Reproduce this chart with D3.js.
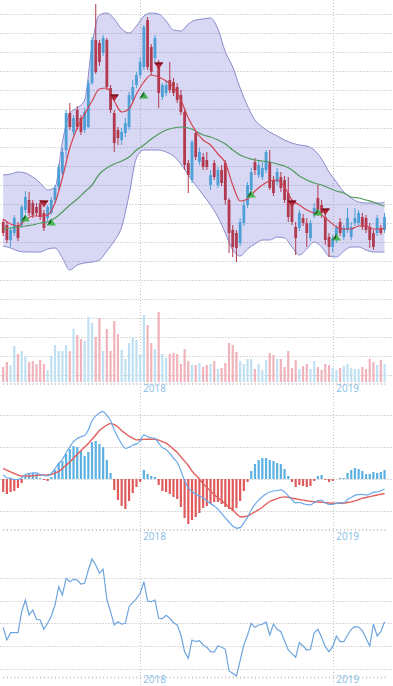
<!DOCTYPE html>
<html><head><meta charset="utf-8">
<script src="https://cdn.jsdelivr.net/npm/d3@7"></script>
<style>html,body{margin:0;padding:0;background:#fff;overflow:hidden}</style>
</head><body><svg id="c" width="393" height="686"></svg>
<script>
// ---------- DATA ----------
const firstWeek = "2017-04-17";
const lastWeek = "2019-04-08";
const openP = [7.8,7.5,6.0,6.7,7.5,7.5,9.0,10.0,9.7,9.3,
9.7,8.7,8.2,8.7,10.0,11.3,12.7,15.0,18.7,16.8,
19.0,18.2,17.0,17.3,21.7,26.0,25.7,24.7,26.0,21.2,
18.7,17.0,16.0,16.7,17.3,20.0,21.5,22.5,23.3,28.0,
25.3,24.2,23.8,20.3,20.7,22.0,21.8,21.3,20.5,18.8,
13.7,12.0,16.7,13.8,14.3,14.0,11.5,13.7,11.5,13.0,
13.7,10.0,7.0,6.7,5.7,7.7,9.5,11.0,13.8,12.5,
12.3,13.0,13.8,12.0,11.8,12.3,12.0,10.7,9.5,7.3,
7.2,8.2,7.7,6.2,8.5,10.2,9.5,8.3,6.3,5.3,
6.0,7.8,6.3,7.0,6.3,7.7,7.7,8.3,8.2,7.3,
6.7,6.7,7.2,7.0];
const highP = [8.1,7.9,7.3,8.5,7.8,9.5,10.9,10.8,10.0,9.7,
10.0,9.0,9.5,10.3,11.5,13.6,15.2,19.0,19.7,18.5,
19.4,18.5,19.2,22.0,26.3,29.6,26.0,26.5,26.2,21.5,
19.0,17.3,17.2,18.2,20.8,22.0,22.8,24.3,27.5,28.3,
25.6,26.5,24.0,21.7,22.0,23.8,22.2,21.7,21.0,19.0,
14.0,16.0,16.8,15.2,14.7,14.8,13.0,14.0,13.3,13.5,
14.0,10.2,7.5,7.0,8.2,10.0,11.8,13.2,14.2,14.0,
13.8,15.0,15.0,12.4,13.2,12.8,12.4,12.3,10.0,7.8,
9.0,8.6,8.2,8.0,9.7,11.5,10.0,8.7,6.7,6.5,
7.5,8.2,7.5,9.2,7.8,9.2,9.0,8.7,8.5,7.7,
7.0,8.5,7.5,8.7];
const lowP = [6.4,5.7,5.3,6.4,5.9,7.2,8.7,8.4,8.2,8.4,
8.0,6.9,7.9,8.5,9.7,11.0,12.5,14.2,17.0,16.5,
17.0,16.5,16.7,17.2,21.5,22.6,23.4,24.4,21.0,18.7,
14.8,15.5,15.5,16.3,17.0,19.7,21.2,22.2,23.0,23.0,
22.5,23.8,19.2,20.0,20.4,20.7,20.4,19.7,18.5,13.0,
10.7,11.7,14.0,13.5,13.0,13.0,11.0,12.0,11.2,11.4,
9.5,4.7,4.3,3.8,5.4,7.4,9.2,10.7,12.5,12.2,
12.0,12.7,11.0,10.4,11.5,10.8,9.7,7.8,7.5,4.5,
6.9,7.4,5.3,5.9,8.2,8.4,8.2,5.5,4.3,4.8,
5.7,6.4,6.0,6.7,6.0,7.4,7.4,7.0,6.7,5.2,
5.0,6.4,6.5,6.7];
const closeP = [6.7,6.0,7.0,8.2,6.2,9.3,10.3,8.7,8.5,8.7,
8.3,7.2,9.3,10.0,11.2,13.3,14.8,18.7,17.3,18.2,
17.3,16.8,18.8,21.7,26.0,22.8,23.8,26.2,21.3,19.0,
15.7,16.2,16.8,17.7,20.5,21.3,22.5,23.8,27.3,23.3,
22.8,26.2,20.7,21.5,21.5,21.0,20.7,20.0,18.8,13.5,
12.5,15.8,14.3,14.8,13.3,13.3,12.5,12.3,13.0,11.7,
10.0,6.7,5.3,5.2,7.8,9.5,11.5,12.8,13.0,13.5,
13.2,14.8,11.2,10.7,12.8,11.2,10.0,8.3,7.8,6.2,
8.7,7.7,6.7,7.7,9.2,8.7,8.7,6.0,5.3,6.2,
7.2,6.7,7.2,8.2,7.3,8.2,8.7,7.3,7.0,6.0,
5.3,8.2,6.7,8.3];
const volume = [15,20,17,36,28,31,26,20,21,18,
22,18,12,26,37,31,31,37,31,53,
47,43,41,65,59,45,64,31,53,31,
61,48,32,23,39,44,42,28,67,57,
39,33,70,28,24,28,29,28,18,33,
21,17,17,19,15,17,18,21,13,14,
19,39,37,30,21,18,23,23,13,18,
12,22,29,27,23,23,15,31,14,22,
13,16,18,13,21,15,12,18,17,14,
12,14,16,18,14,13,13,15,13,23,
20,17,22,18];
// indicator lines sampled every second week (plus the last week)
const bandUpper = [12.5,12.6,12.8,12.7,12.3,11.7,11.0,11.3,15.8,18.7,19.2,20.0,25.5,28.5,28.7,28.1,27.1,26.7,27.4,28.4,28.7,28.6,27.9,27.0,26.9,27.6,28.0,28.1,28.2,27.1,24.8,23.3,21.2,19.4,18.0,17.3,16.8,16.4,16.0,15.7,15.5,15.4,15.0,14.1,12.8,11.8,10.8,10.2,9.8,9.7,9.7,9.7,9.8];
const bandLower = [5.4,5.2,4.9,4.8,4.8,4.8,5.1,5.2,4.2,3.0,3.5,3.7,3.8,4.0,4.9,5.9,7.3,10.5,14.2,15.0,15.0,15.0,14.8,14.4,13.6,12.5,11.5,10.5,9.5,8.3,6.7,5.0,4.4,5.1,5.6,6.0,6.0,6.3,6.2,5.3,4.5,5.1,5.8,5.3,4.4,4.3,4.9,5.3,5.3,5.0,4.8,4.8,4.8];
const maShort = [8.1,7.6,7.4,8.0,8.4,8.4,8.5,9.7,12.2,15.2,17.2,18.6,19.9,21.1,21.2,19.9,18.8,19.1,20.6,21.8,22.5,22.3,21.9,21.3,20.0,18.2,16.9,16.0,15.5,14.6,13.7,11.5,9.9,10.1,10.9,11.5,11.9,12.0,11.3,10.0,9.5,9.0,8.7,8.5,7.9,7.3,7.1,7.1,7.4,7.4,7.1,7.1,7.2];
const maLong = [7.1,7.2,7.3,7.4,7.5,7.7,7.8,8.2,8.8,9.5,10.1,10.8,11.5,12.6,13.2,13.6,13.9,14.3,15.0,15.5,16.1,16.6,17.0,17.2,17.3,17.2,16.9,16.5,16.3,16.0,15.6,15.0,14.5,14.2,14.0,13.9,13.8,13.6,13.4,13.0,12.4,12.0,11.7,11.5,11.2,10.9,10.7,10.3,10.2,10.0,9.8,9.5,9.4];
const buyWeek = [6,13,38,67,85,90];
const buyPrice = [8.2,7.8,20.5,10.6,8.8,6.3];
const sellWeek = [11,30,42,78,87];
const sellPrice = [9.6,20.2,23.4,9.6,8.8];
const macdDif = [0.040,0.013,0.006,-0.005,-0.005,0.010,0.045,0.055,0.062,0.061,
0.045,0.035,0.030,0.055,0.105,0.157,0.195,0.263,0.321,0.373,
0.405,0.422,0.435,0.491,0.582,0.630,0.660,0.674,0.635,0.584,
0.489,0.415,0.350,0.306,0.318,0.338,0.351,0.378,0.441,0.422,
0.412,0.407,0.359,0.314,0.294,0.255,0.208,0.165,0.082,-0.016,
-0.090,-0.125,-0.150,-0.170,-0.191,-0.219,-0.246,-0.271,-0.302,-0.343,
-0.389,-0.430,-0.470,-0.492,-0.487,-0.437,-0.384,-0.310,-0.254,-0.212,
-0.177,-0.147,-0.130,-0.120,-0.116,-0.109,-0.129,-0.168,-0.207,-0.238,
-0.235,-0.246,-0.257,-0.258,-0.238,-0.215,-0.213,-0.241,-0.255,-0.253,
-0.243,-0.238,-0.236,-0.205,-0.184,-0.164,-0.156,-0.153,-0.160,-0.151,
-0.133,-0.130,-0.118,-0.100];
const macdDea = [0.105,0.088,0.071,0.055,0.040,0.030,0.030,0.030,0.032,0.036,
0.040,0.040,0.040,0.045,0.060,0.077,0.105,0.138,0.171,0.208,
0.245,0.282,0.320,0.356,0.397,0.440,0.485,0.514,0.540,0.554,
0.544,0.520,0.485,0.456,0.428,0.408,0.391,0.393,0.396,0.397,
0.397,0.397,0.389,0.374,0.359,0.330,0.298,0.265,0.222,0.179,
0.135,0.080,0.040,0.000,-0.046,-0.084,-0.121,-0.156,-0.187,-0.218,
-0.249,-0.280,-0.310,-0.347,-0.377,-0.377,-0.369,-0.350,-0.329,-0.307,
-0.282,-0.252,-0.225,-0.210,-0.196,-0.184,-0.179,-0.183,-0.192,-0.198,
-0.205,-0.211,-0.217,-0.223,-0.228,-0.230,-0.233,-0.236,-0.240,-0.243,
-0.243,-0.243,-0.241,-0.235,-0.229,-0.219,-0.206,-0.193,-0.185,-0.176,
-0.168,-0.160,-0.153,-0.145];
const macdHist = [-0.13,-0.15,-0.13,-0.12,-0.09,-0.04,0.03,0.05,0.06,0.05,
0.01,-0.01,-0.02,0.02,0.09,0.16,0.18,0.25,0.30,0.33,
0.32,0.28,0.23,0.27,0.37,0.38,0.35,0.32,0.19,0.06,
-0.11,-0.21,-0.27,-0.30,-0.22,-0.14,-0.08,-0.03,0.09,0.05,
0.03,0.02,-0.06,-0.12,-0.13,-0.15,-0.18,-0.20,-0.28,-0.39,
-0.45,-0.41,-0.38,-0.34,-0.29,-0.27,-0.25,-0.23,-0.23,-0.25,
-0.28,-0.30,-0.32,-0.29,-0.22,-0.12,-0.03,0.08,0.15,0.19,
0.21,0.21,0.19,0.18,0.16,0.15,0.10,0.03,-0.03,-0.08,
-0.06,-0.07,-0.08,-0.07,-0.02,0.03,0.04,-0.01,-0.03,-0.02,
0.00,0.01,0.01,0.06,0.09,0.11,0.10,0.08,0.05,0.05,
0.07,0.06,0.07,0.09];
const oscValues = [52.7,40,47.3,47.3,47.3,68.3,80,65,70,60.7,
60,50.7,56.7,64,75,93.3,85,101.7,98.3,100.7,
100,96,96.7,110,121,115,106.7,110.7,80.7,68.3,
55,58.3,56,56.7,73.3,77.7,81.3,86.7,98.3,79,
78.3,80,61.7,61.3,64.7,61.7,57.3,55,45,28.3,
21.7,40,38.3,39.3,35,32.7,28.3,28,34,32.7,
30.7,9,6.7,4,19.3,35,45,56.7,52.7,55,
55.7,58,45,56,50.7,48.3,39,30,26.3,22.7,
37.3,34,30,30.7,47.3,50.7,42.7,33.3,28.3,33.3,
44,38.3,38.3,44.7,50.7,53.3,53,49.3,41.7,34,
56,44,48.3,58.3];
const priceGridTop = 28.6, priceGridStep = 1.9, priceGridCount = 20;
const macdGrid = [0.64, 0.32, 0, -0.32];
const oscGrid = [101.7, 79.3, 56.7, 34.3, 10.7];

// ---------- SETUP ----------
const svg = d3.select("#c");
const W = 393, H = 686;
const parse = d3.utcParse("%Y-%m-%d");
const weeks = d3.utcMonday.range(parse(firstWeek), d3.utcDay.offset(parse(lastWeek), 1));
const indIdx = d3.range(0, weeks.length, 2).concat([weeks.length - 1]);

const x = d3.scaleUtc().domain([parse("2017-04-11"), parse("2019-04-24")]).range([0, W]);
const yP = d3.scaleLinear().domain([30, 2]).range([0, 280]);
const yV = d3.scaleLinear().domain([0, 100]).range([382, 282]);
const yM = d3.scaleLinear().domain([-0.5, 0.5]).range([529, 429]);
const yR = d3.scaleLinear().domain([0, 130]).range([680, 550]);

const BLUE = "#4f9fd7", RED = "#b23a4f";
const gridColor = "#dadada";

function hGrid(values, scale) {
  svg.append("g").selectAll("line").data(values).join("line")
    .attr("x1", 0).attr("x2", W)
    .attr("y1", d => Math.round(scale(d)) + 0.5).attr("y2", d => Math.round(scale(d)) + 0.5)
    .attr("stroke", gridColor).attr("stroke-dasharray", "2,1");
}
hGrid(d3.range(priceGridCount).map(k => priceGridTop - priceGridStep * k), yP);
hGrid(macdGrid, yM);
hGrid(oscGrid, yR);

// year lines
const years = x.ticks(d3.utcYear.every(1));
svg.append("g").selectAll("line").data(years).join("line")
  .attr("x1", d => Math.round(x(d)) + 0.5).attr("x2", d => Math.round(x(d)) + 0.5)
  .attr("y1", 0).attr("y2", H).attr("stroke", "#c4c4c4").attr("stroke-dasharray", "1,2");

// bollinger band
const ix = k => x(weeks[indIdx[k]]);
const kk = indIdx.map((_, k) => k);
svg.append("path").datum(kk)
  .attr("d", d3.area().x(ix).y0(k => yP(bandLower[k])).y1(k => yP(bandUpper[k])).curve(d3.curveMonotoneX))
  .attr("fill", "rgba(100,100,210,0.25)");
[bandUpper, bandLower].forEach(arr => {
  svg.append("path").datum(kk)
    .attr("d", d3.line().x(ix).y(k => yP(arr[k])).curve(d3.curveMonotoneX))
    .attr("fill", "none").attr("stroke", "#8a8ace").attr("stroke-width", 1);
});

// candles
const cg = svg.append("g");
weeks.forEach((d, i) => {
  const up = closeP[i] >= openP[i];
  const col = up ? BLUE : RED;
  const cx = x(d);
  cg.append("line").attr("x1", cx).attr("x2", cx).attr("y1", yP(highP[i])).attr("y2", yP(lowP[i]))
    .attr("stroke", col).attr("stroke-width", 1);
  const top = yP(Math.max(openP[i], closeP[i])), bot = yP(Math.min(openP[i], closeP[i]));
  cg.append("rect").attr("x", cx - 1.4).attr("width", 2.8).attr("y", top).attr("height", Math.max(1, bot - top))
    .attr("fill", col);
});

// moving averages
svg.append("path").datum(kk)
  .attr("d", d3.line().x(ix).y(k => yP(maLong[k])).curve(d3.curveMonotoneX))
  .attr("fill", "none").attr("stroke", "#4f9a5c").attr("stroke-width", 1.2);
svg.append("path").datum(kk)
  .attr("d", d3.line().x(ix).y(k => yP(maShort[k])).curve(d3.curveMonotoneX))
  .attr("fill", "none").attr("stroke", "#d2424f").attr("stroke-width", 1.2);

// signals
buyWeek.forEach((w, j) => {
  const cx = x(weeks[w]), cy = yP(buyPrice[j]);
  svg.append("path").attr("d", `M${cx-4.5},${cy+3.5}L${cx},${cy-3.5}L${cx+4.5},${cy+3.5}Z`).attr("fill", "#46b552");
  svg.append("path").attr("d", `M${cx-4.5},${cy+3.5}L${cx},${cy-3.5}L${cx-0.5},${cy+1}Z`).attr("fill", "#1d5a26");
});
sellWeek.forEach((w, j) => {
  const cx = x(weeks[w]), cy = yP(sellPrice[j]);
  svg.append("path").attr("d", `M${cx-4.5},${cy-3.5}L${cx+4.5},${cy-3.5}L${cx},${cy+3.5}Z`).attr("fill", "#b8283c");
  svg.append("path").attr("d", `M${cx-4.5},${cy-3.5}L${cx+4.5},${cy-3.5}L${cx+3.2},${cy-1.5}L${cx-3.2},${cy-1.5}Z`).attr("fill", "#7a1422");
});

// volume
svg.append("g").selectAll("rect").data(weeks).join("rect")
  .attr("x", d => x(d) - 1.1).attr("width", 2.2)
  .attr("y", (d, i) => yV(volume[i])).attr("height", (d, i) => yV(0) - yV(volume[i]))
  .attr("fill", (d, i) => closeP[i] >= openP[i] ? "#bfe0f3" : "#f1b3bb");

// MACD histogram + lines
svg.append("g").selectAll("rect").data(weeks).join("rect")
  .attr("x", d => x(d) - 1.1).attr("width", 2.2)
  .attr("y", (d, i) => Math.min(yM(0), yM(macdHist[i])))
  .attr("height", (d, i) => Math.abs(yM(macdHist[i]) - yM(0)))
  .attr("fill", (d, i) => macdHist[i] >= 0 ? "#5cb0e2" : "#df5a5c");
svg.append("path").datum(weeks)
  .attr("d", d3.line().x(d => x(d)).y((d, i) => yM(macdDea[i])).curve(d3.curveMonotoneX))
  .attr("fill", "none").attr("stroke", "#e2605c").attr("stroke-width", 1.4);
svg.append("path").datum(weeks)
  .attr("d", d3.line().x(d => x(d)).y((d, i) => yM(macdDif[i])).curve(d3.curveMonotoneX))
  .attr("fill", "none").attr("stroke", "#6aa9e9").attr("stroke-width", 1.2);

// oscillator
svg.append("path").datum(weeks)
  .attr("d", d3.line().x(d => x(d)).y((d, i) => yR(oscValues[i])))
  .attr("fill", "none").attr("stroke", "#6ea4dd").attr("stroke-width", 1.2);

// time axes (small ticks + year labels)
[[383, 392], [529, 540], [676.5, 683]].forEach(([ty, ly]) => {
  const ax = d3.axisBottom(x).tickValues(weeks).tickSize(2).tickFormat("");
  const g = svg.append("g").attr("transform", `translate(0,${ty})`).call(ax);
  g.select(".domain").remove();
  g.selectAll(".tick line").attr("stroke", "#c2c2c2");
  svg.append("g").selectAll("text").data(years).join("text")
    .attr("x", d => x(d) + 3).attr("y", ly)
    .attr("font-family", "'Open Sans', sans-serif").attr("font-size", 10)
    .attr("fill", "#85bde6").text(d3.utcFormat("%Y"));
});
</script></body></html>
